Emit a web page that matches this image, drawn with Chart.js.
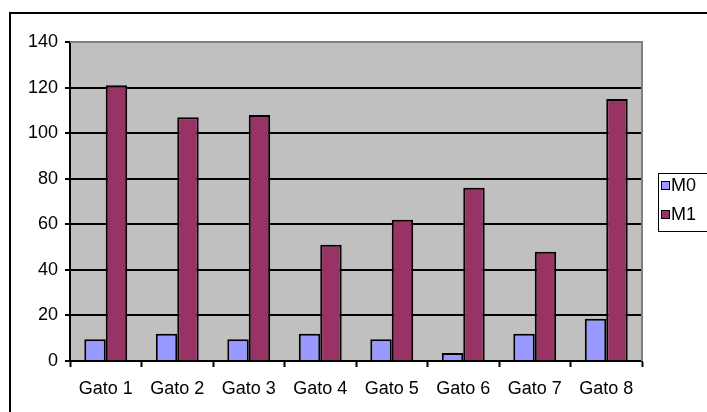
<!DOCTYPE html>
<html>
<head>
<meta charset="utf-8">
<script src="https://cdn.jsdelivr.net/npm/chart.js@4"></script>
<style>
  html, body { margin: 0; padding: 0; background: #fff; }
  canvas { display: block; }
</style>
</head>
<body>
<canvas id="gatoChart" width="707" height="412"></canvas>
<script>
// datos
const categorias = ['Gato 1', 'Gato 2', 'Gato 3', 'Gato 4', 'Gato 5', 'Gato 6', 'Gato 7', 'Gato 8'];
const valoresM0 = [9.5, 12, 9.5, 12, 9.5, 3.5, 12, 18.5];
const valoresM1 = [121, 107, 108, 51, 62, 76, 48, 115];
const ticksY = [0, 20, 40, 60, 80, 100, 120, 140];

const FONT = '"Liberation Sans", Arial, sans-serif';
const FONT_SIZE = 18;

// fondo gris del área, marco exterior y leyenda
const marcoPlugin = {
    id: 'marco',
    beforeDraw(chart) {
        const { ctx, chartArea: a } = chart;
        ctx.save();
        ctx.fillStyle = '#C0C0C0';
        ctx.fillRect(a.left, a.top, a.right - a.left, a.bottom - a.top);
        ctx.restore();
    },
    afterDatasetsDraw(chart) {
        const { ctx, chartArea: a } = chart;
        ctx.save();
        ctx.strokeStyle = '#808080';
        ctx.lineWidth = 2;
        ctx.beginPath();
        ctx.moveTo(a.left, a.top);
        ctx.lineTo(a.right, a.top);
        ctx.lineTo(a.right, a.bottom);
        ctx.stroke();
        ctx.restore();
    },
    afterDraw(chart) {
        const { ctx } = chart;
        ctx.save();
        // marco exterior
        ctx.strokeStyle = '#000';
        ctx.lineWidth = 2;
        ctx.beginPath();
        ctx.moveTo(10, 412);
        ctx.lineTo(10, 13);
        ctx.lineTo(707, 13);
        ctx.stroke();

        // leyenda
        ctx.lineWidth = 1;
        ctx.strokeRect(658.5, 173.5, 70, 58);
        ctx.font = FONT_SIZE + 'px ' + FONT;
        ctx.textBaseline = 'middle';
        chart.data.datasets.forEach((ds, i) => {
            const y = 185 + i * 29;
            ctx.fillStyle = ds.backgroundColor;
            ctx.fillRect(662, y - 3, 7, 7);
            ctx.strokeStyle = '#000';
            ctx.strokeRect(661.5, y - 3.5, 8, 8);
            ctx.fillStyle = '#000';
            ctx.fillText(ds.label, 671, y + 1);
        });
        ctx.restore();
    }
};

new Chart(document.getElementById('gatoChart').getContext('2d'), {
    type: 'bar',
    data: {
        labels: categorias,
        datasets: [
            {
                label: 'M0',
                data: valoresM0,
                backgroundColor: '#9999FF',
                borderColor: '#000',
                borderWidth: 2
            },
            {
                label: 'M1',
                data: valoresM1,
                backgroundColor: '#993366',
                borderColor: '#000',
                borderWidth: 2
            }
        ]
    },
    options: {
        responsive: false,
        animation: false,
        devicePixelRatio: 1,
        layout: { padding: { top: 42, right: 65, left: 0, bottom: 0 } },
        datasets: {
            bar: { categoryPercentage: 0.6, barPercentage: 1 }
        },
        plugins: {
            legend: { display: false },
            tooltip: { enabled: false }
        },
        scales: {
            x: {
                afterFit(scale) { scale.height = 51; },
                grid: {
                    offset: true,
                    drawOnChartArea: false,
                    drawTicks: true,
                    tickLength: 6,
                    tickColor: '#000',
                    tickWidth: 2
                },
                border: { color: '#000', width: 2 },
                ticks: {
                    color: '#000',
                    font: { family: FONT, size: FONT_SIZE },
                    padding: 11,
                    maxRotation: 0
                }
            },
            y: {
                min: 0,
                max: 140,
                afterFit(scale) { scale.width = 70; },
                afterBuildTicks(scale) {
                    scale.ticks = ticksY.map(v => ({ value: v }));
                },
                grid: {
                    color: ctx => (ctx.tick && ctx.tick.value === 140) ? '#808080' : '#000',
                    lineWidth: 2,
                    tickLength: 5,
                    tickColor: '#000'
                },
                border: { color: '#000', width: 2 },
                ticks: {
                    color: '#000',
                    font: { family: FONT, size: FONT_SIZE },
                    padding: 7
                }
            }
        }
    },
    plugins: [marcoPlugin]
});
</script>
</body>
</html>
